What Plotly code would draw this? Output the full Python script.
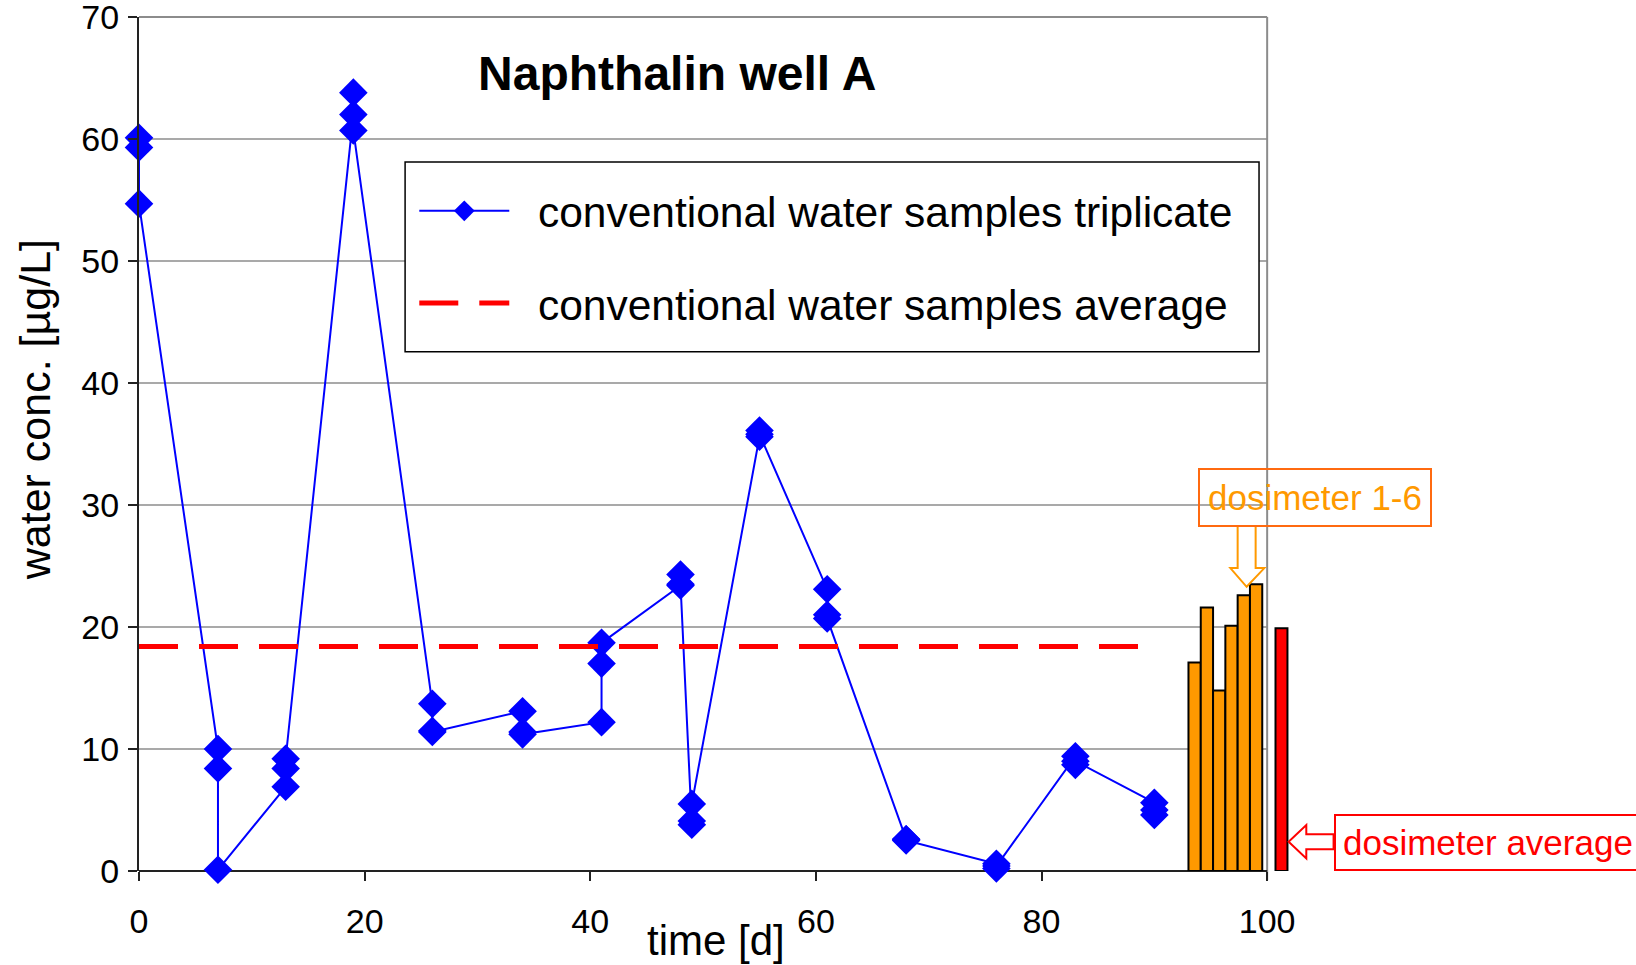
import plotly.graph_objects as go

# ---------------- data ----------------
days = [0, 7, 13, 19, 26, 34, 41, 48, 49, 55, 61, 68, 76, 83, 90]
rep_a = [60.1, 10.0, 6.9, 62.0, 13.7, 13.1, 12.2, 23.4, 3.8, 35.6, 23.1, 2.6, 0.6, 9.4, 5.6]
rep_b = [59.3, 8.4, 8.4, 63.8, 11.5, 11.4, 17.0, 24.3, 4.1, 36.1, 21.0, 2.6, 0.2, 8.7, 4.6]
rep_c = [54.7, 0.1, 9.2, 60.7, 11.4, 11.2, 18.7, 23.5, 5.5, 35.8, 20.7, 2.5, 0.4, 9.0, 5.0]

avg_value = 18.4
avg_days = [0, 89]

dosimeter_labels = ["1", "2", "3", "4", "5", "6"]
dosimeter_values = [17.1, 21.6, 14.8, 20.1, 22.6, 23.5]
dosimeter_avg = 19.9

x_ticks = [0, 20, 40, 60, 80, 100]
y_ticks = [0, 10, 20, 30, 40, 50, 60, 70]

# ---------------- geometry helpers ----------------
W, H = 1636, 965
L, T = 138.5, 16.7          # plot area position on screen
X_MAX = 103
PLOT_W = 1162.9
PLOT_H = 854.3
Y0 = T + PLOT_H             # screen pixel of y=0


def px(xp):
    return (xp - L) / PLOT_W


def py(yp):
    return (Y0 - yp) / PLOT_H


FONT = "Liberation Sans, Arial, Helvetica, sans-serif"

# triplicate sequence
seq_x, seq_y = [], []
for d, a, b, c in zip(days, rep_a, rep_b, rep_c):
    seq_x += [d, d, d]
    seq_y += [a, b, c]

fig = go.Figure()

# orange dosimeter bars
bar_start, bar_step = 93.57, 1.09
dos_x = [bar_start + i * bar_step for i in range(len(dosimeter_values))]
fig.add_trace(go.Bar(
    x=dos_x, y=dosimeter_values, width=bar_step,
    marker=dict(color="#FF9900", line=dict(color="black", width=2)),
    showlegend=False, hovertext=["dosimeter " + s for s in dosimeter_labels],
))
fig.add_trace(go.Bar(
    x=[101.27], y=[dosimeter_avg], width=1.06,
    marker=dict(color="#FF0000", line=dict(color="black", width=2)),
    showlegend=False, hovertext=["dosimeter average"],
))

NB = "\u00a0\u00a0"
fig.add_trace(go.Scatter(
    x=seq_x, y=seq_y, mode="lines+markers",
    name=NB + "conventional water samples triplicate",
    line=dict(color="#0000FF", width=2),
    marker=dict(symbol="diamond", size=22, color="#0000FF"),
    legendgroup="a", cliponaxis=False,
))
fig.add_trace(go.Scatter(
    x=avg_days, y=[avg_value, avg_value], mode="lines",
    name=NB + "conventional water samples average",
    line=dict(color="#FF0000", width=5, dash="39px,21px"),
    legendgroup="b",
))

x100 = 100 / X_MAX
shapes = []
for yv in y_ticks[1:-1]:
    shapes.append(dict(type="line", xref="x", yref="y", x0=0, x1=100, y0=yv, y1=yv,
                       line=dict(color="#8C8C8C", width=1.5), layer="below"))
# plot-area border (top and right)
shapes.append(dict(type="line", xref="paper", yref="paper", x0=0, x1=x100, y0=1, y1=1,
                   line=dict(color="#8C8C8C", width=2), layer="below"))
shapes.append(dict(type="line", xref="paper", yref="paper", x0=x100, x1=x100,
                   y0=py(Y0 + 9), y1=1,
                   line=dict(color="#8C8C8C", width=2), layer="below"))
# x axis line
shapes.append(dict(type="line", xref="paper", yref="paper", x0=0, x1=x100, y0=0, y1=0,
                   line=dict(color="#222222", width=2), layer="below"))
# legend box
shapes.append(dict(type="rect", xref="paper", yref="paper",
                   x0=px(404.8), x1=px(1259.4), y0=py(351.6), y1=py(161.7),
                   line=dict(color="black", width=1.5), fillcolor="white", layer="above"))


def path(points):
    return "M " + " L ".join(f"{px(a):.5f},{py(b):.5f}" for a, b in points) + " Z"


# hollow arrow: dosimeter 1-6 (pointing down)
shapes.append(dict(type="path", xref="paper", yref="paper",
                   path=path([(1238, 526), (1238, 568), (1230.7, 568), (1247, 586.7),
                              (1264.7, 568), (1256, 568), (1256, 526)]),
                   line=dict(color="#FF9900", width=2), fillcolor="white", layer="above"))
# hollow arrow: dosimeter average (pointing left)
shapes.append(dict(type="path", xref="paper", yref="paper",
                   path=path([(1334, 834.3), (1306.7, 834.3), (1306.7, 825), (1289, 841.7),
                              (1306.7, 858.4), (1306.7, 849.3), (1334, 849.3)]),
                   line=dict(color="#FF0000", width=2), fillcolor="white", layer="above"))

annotations = [
    dict(text="water conc. [µg/L]", textangle=-90, xref="paper", yref="paper",
         x=px(34.5), y=py(410), xanchor="center", yanchor="middle", showarrow=False,
         font=dict(size=43, color="black", family=FONT)),
    dict(text="time [d]", xref="paper", yref="paper",
         x=px(716), y=py(941), xanchor="center", yanchor="middle", showarrow=False,
         font=dict(size=42, color="black", family=FONT)),
    dict(text="dosimeter 1-6", xref="paper", yref="paper",
         x=px(1315), y=py(497.5), xanchor="center", yanchor="middle", showarrow=False,
         font=dict(size=35, color="#FF9900", family=FONT),
         bordercolor="#FF6A10", borderwidth=2, borderpad=8, bgcolor="rgba(255,255,255,0)"),
    dict(text="dosimeter average", xref="paper", yref="paper",
         x=px(1334), y=py(842), xanchor="left", yanchor="middle", showarrow=False,
         font=dict(size=35, color="#FF0000", family=FONT),
         bordercolor="#FF0000", borderwidth=2, borderpad=7, bgcolor="white"),
]

fig.update_layout(
    width=W, height=H,
    margin=dict(l=L, r=W - L - PLOT_W, t=T, b=H - Y0, pad=0, autoexpand=False),
    paper_bgcolor="white", plot_bgcolor="white",
    font=dict(family=FONT, color="black", size=34),
    barmode="overlay",
    title=dict(text="<b>Naphthalin well A</b>", xref="paper", yref="paper",
               x=px(649 * 1.0434), y=py(73), xanchor="center", yanchor="middle",
               font=dict(size=48, color="black", family=FONT)),
    xaxis=dict(range=[0, X_MAX], tickvals=x_ticks, ticks="outside", ticklen=9,
               tickcolor="#222222", tickwidth=2, showline=False, showgrid=False,
               zeroline=False, ticklabelstandoff=11, automargin=False,
               ticklabeloverflow="allow", tickfont=dict(size=34)),
    yaxis=dict(range=[0, 70], tickvals=y_ticks, ticks="outside", ticklen=9,
               tickcolor="#222222", tickwidth=2, showline=True, linecolor="#222222",
               linewidth=2, showgrid=False, zeroline=False, ticklabelstandoff=2,
               automargin=False, ticklabeloverflow="allow", tickfont=dict(size=34)),
    legend=dict(x=px(414), y=py(176.5), xanchor="left", yanchor="top",
                borderwidth=0, bgcolor="rgba(255,255,255,0)",
                font=dict(size=42.5, color="black", family=FONT),
                traceorder="grouped", tracegroupgap=34, itemwidth=90,
                itemsizing="trace"),
    shapes=shapes, annotations=annotations,
    showlegend=True,
)

fig.write_html(
    "out.html",
    config={"displayModeBar": False},
    post_script="document.body.style.margin='0';document.body.style.padding='0';"
                "document.body.style.overflow='hidden';",
)
